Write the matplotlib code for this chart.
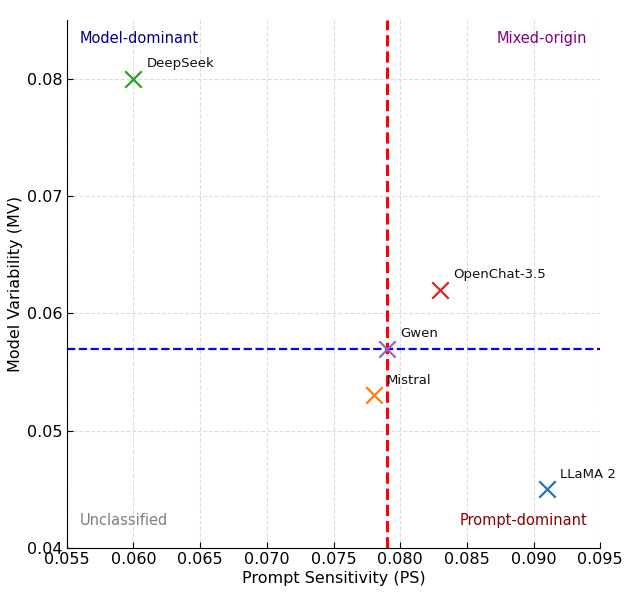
import matplotlib
matplotlib.use("Agg")
import matplotlib.pyplot as plt

models = ["DeepSeek", "OpenChat-3.5", "Gwen", "Mistral", "LLaMA 2"]
ps = [0.060, 0.083, 0.079, 0.078, 0.091]
mv = [0.080, 0.062, 0.057, 0.053, 0.045]
colors = ["#2ca02c", "#d62728", "#9467bd", "#ff7f0e", "#1f77b4"]
ps_threshold = 0.079
mv_threshold = 0.057
xticks = [0.055, 0.060, 0.065, 0.070, 0.075, 0.080, 0.085, 0.090, 0.095]
yticks = [0.04, 0.05, 0.06, 0.07, 0.08]

fig = plt.figure(figsize=(6.24, 5.94), dpi=100)
ax = fig.add_axes([0.107, 0.0774, 0.855, 0.889])

for name, x, y, c in zip(models, ps, mv, colors):
    ax.scatter([x], [y], marker="x", s=140, color=c, linewidths=1.6, zorder=3)
    ax.text(x + 0.001, y + 0.001, name, fontsize=9.5, color="#111111")

ax.axvline(ps_threshold, color="red", linestyle="--", linewidth=2.2, zorder=2)
ax.axhline(mv_threshold, color="blue", linestyle="--", linewidth=1.6, zorder=2)

ax.text(0.056, 0.083, "Model-dominant", color="darkblue", fontsize=10.5)
ax.text(0.094, 0.083, "Mixed-origin", color="purple", fontsize=10.5, ha="right")
ax.text(0.056, 0.042, "Unclassified", color="gray", fontsize=10.5)
ax.text(0.094, 0.042, "Prompt-dominant", color="darkred", fontsize=10.5, ha="right")

ax.set_xlim(0.055, 0.095)
ax.set_ylim(0.04, 0.085)
ax.set_xticks(xticks)
ax.set_yticks(yticks)
ax.set_xticklabels([f"{t:.3f}" for t in xticks])
ax.set_yticklabels([f"{t:.2f}" for t in yticks])
ax.tick_params(labelsize=11.5, length=4, direction="in", pad=3)
ax.set_xlabel("Prompt Sensitivity (PS)", fontsize=11.5, labelpad=3)
ax.set_ylabel("Model Variability (MV)", fontsize=11.5, labelpad=3)
ax.grid(True, linestyle="--", color="#dddddd", linewidth=0.8)
ax.set_axisbelow(True)
ax.spines["top"].set_visible(False)
ax.spines["right"].set_visible(False)

fig.savefig("out.png", dpi=100)
